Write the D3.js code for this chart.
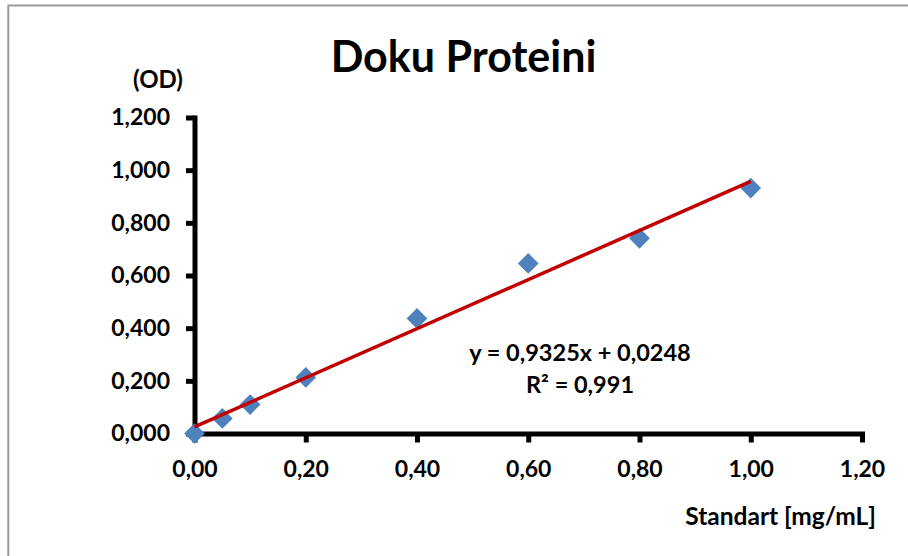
<!DOCTYPE html>
<html>
<head>
<meta charset="utf-8">
<script src="https://cdn.jsdelivr.net/npm/d3@7"></script>
<style>
  html, body { margin: 0; padding: 0; background: #fff; }
  svg { display: block; }
  text { font-family: Lato, "Open Sans", sans-serif; font-weight: bold; fill: #000; }
</style>
</head>
<body>
<svg id="chart" width="908" height="556"></svg>
<script>
// Standard curve: concentration (mg/mL) vs. optical density
const concentrations = [0, 0.05, 0.1, 0.2, 0.4, 0.6, 0.8, 1.0];
const odValues = [0.000, 0.057, 0.110, 0.213, 0.437, 0.646, 0.741, 0.932];

// Linear trendline parameters
const slope = 0.9325;
const intercept = 0.0248;
const rSquared = 0.991;
const trendRange = [0, 1.0];

// Axis ticks
const xTicks = [0, 0.2, 0.4, 0.6, 0.8, 1.0, 1.2];
const yTicks = [0, 0.2, 0.4, 0.6, 0.8, 1.0, 1.2];

const titleText = "Doku Proteini";
const yLabelText = "(OD)";
const xLabelText = "Standart [mg/mL]";

const locale = d3.formatLocale({ decimal: ",", thousands: ".", grouping: [3], currency: ["", ""] });
const fmtX = locale.format(".2f");
const fmtY = locale.format(".3f");
const fmtCoef = locale.format(".4f");
const fmtR = locale.format(".3f");

const svg = d3.select("#chart");

// Chart area frame
svg.append("rect")
  .attr("x", 8.3).attr("y", 5.5)
  .attr("width", 1200).attr("height", 1200)
  .attr("fill", "none")
  .attr("stroke", "#9a9a9a")
  .attr("stroke-width", 2);

const x = d3.scaleLinear().domain([0, 1.2]).range([194.5, 862]);
const y = d3.scaleLinear().domain([0, 1.2]).range([433.5, 117.5]);

// Y axis
const yAxis = svg.append("g")
  .attr("transform", `translate(${x(0)},0)`)
  .call(d3.axisLeft(y).tickValues(yTicks).tickFormat(fmtY).tickSize(8.5).tickSizeOuter(0).tickPadding(16));

// X axis
const xAxis = svg.append("g")
  .attr("transform", `translate(0,${y(0)})`)
  .call(d3.axisBottom(x).tickValues(xTicks).tickFormat(fmtX).tickSize(9).tickSizeOuter(0).tickPadding(18));

[yAxis, xAxis].forEach(g => {
  g.attr("font-family", null).attr("font-size", null);
  g.select(".domain").attr("stroke", "#000").attr("stroke-width", 5).attr("stroke-linecap", "square");
  g.selectAll(".tick line").attr("stroke", "#000").attr("stroke-width", 5);
  g.selectAll(".tick text").style("font-size", "23px").attr("fill", "#000");
});

// Data markers (diamonds)
const diamond = d3.symbol().type(d3.symbolSquare).size(215);
svg.append("g")
  .selectAll("path")
  .data(concentrations.map((c, i) => ({ c, v: odValues[i] })))
  .join("path")
  .attr("d", diamond)
  .attr("transform", d => `translate(${x(d.c)},${y(d.v)}) rotate(45)`)
  .attr("fill", "#4F81BD");

// Trendline
const line = d3.line().x(d => x(d)).y(d => y(slope * d + intercept));
svg.append("path")
  .datum(trendRange)
  .attr("d", line)
  .attr("fill", "none")
  .attr("stroke", "#C00000")
  .attr("stroke-width", 3.5);

// Trendline equation
svg.append("text")
  .attr("x", 580).attr("y", 361)
  .attr("text-anchor", "middle")
  .style("font-size", "23.5px")
  .text(`y = ${fmtCoef(slope)}x + ${fmtCoef(intercept)}`);

svg.append("text")
  .attr("x", 580).attr("y", 393)
  .attr("text-anchor", "middle")
  .style("font-size", "23.5px")
  .text(`R² = ${fmtR(rSquared)}`);

// Title and axis labels
svg.append("text")
  .attr("x", 463.5).attr("y", 72)
  .attr("text-anchor", "middle")
  .style("font-size", "43px")
  .text(titleText);

svg.append("text")
  .attr("x", 158).attr("y", 88)
  .attr("text-anchor", "middle")
  .style("font-size", "24px")
  .text(yLabelText);

svg.append("text")
  .attr("x", 876).attr("y", 525)
  .attr("text-anchor", "end")
  .style("font-size", "24.5px")
  .text(xLabelText);
</script>
</body>
</html>
